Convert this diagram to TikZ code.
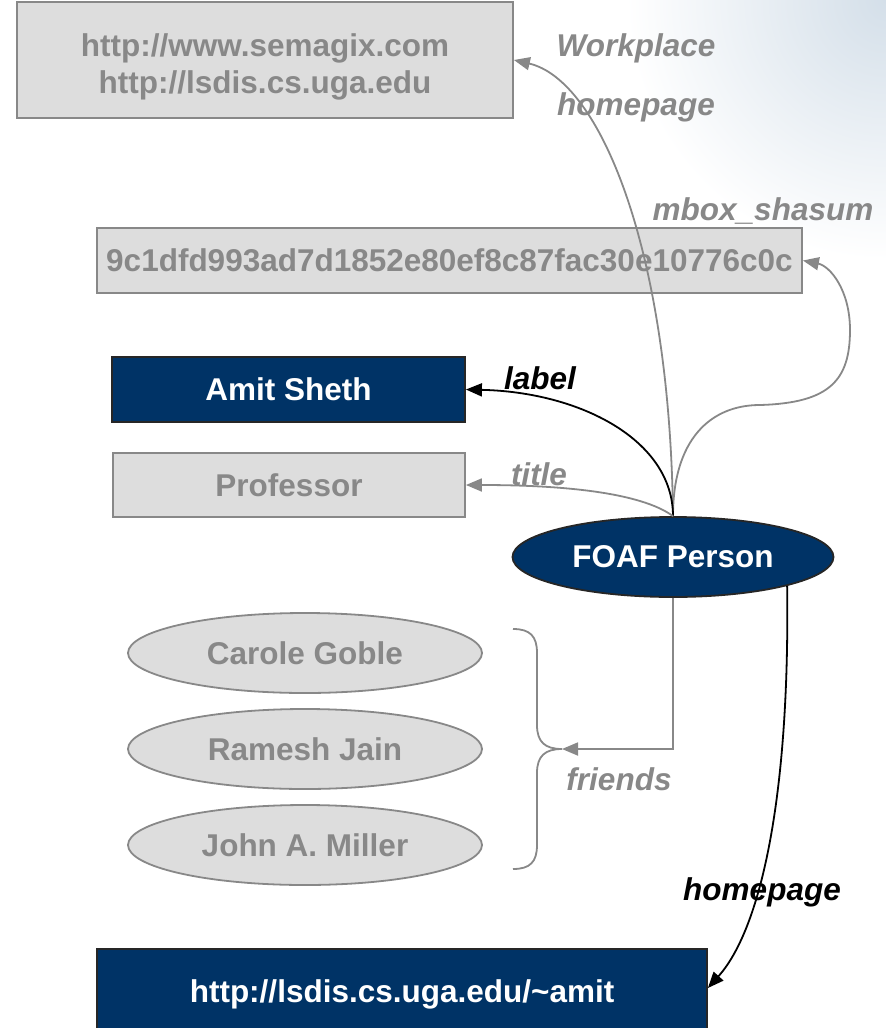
\documentclass[tikz,border=0pt]{standalone}
\usepackage{fontspec}
\setmainfont{Liberation Sans}
\usetikzlibrary{arrows.meta,shapes.geometric}

\definecolor{navy}{RGB}{0,51,102}
\definecolor{boxgray}{RGB}{221,221,221}
\definecolor{txtgray}{RGB}{136,136,136}
\definecolor{haze}{RGB}{212,223,233}

\tikzset{
  big/.style={font=\fontsize{31.5}{37}\selectfont\bfseries},
  lit/.style={draw=txtgray,line width=1.8pt,fill=boxgray,text=txtgray,big,inner sep=0pt,align=center},
  res/.style={draw=black!85,line width=1.8pt,fill=navy,text=white,big,inner sep=0pt,align=center},
  litell/.style={lit,ellipse},
  resell/.style={res,ellipse},
  prop/.style={font=\fontsize{31.5}{37}\selectfont\bfseries\itshape,inner sep=0pt},
  greyedge/.style={draw=txtgray,line width=1.8pt,-{Triangle[length=16pt,width=13pt]}},
  blackedge/.style={draw=black,line width=1.8pt,-{Triangle[length=16pt,width=13pt]}},
}

\begin{document}
\begin{tikzpicture}[x=1pt,y=-1pt]
\useasboundingbox (0,0) rectangle (886,1028);

% soft slide backdrop in the upper right corner
\begin{scope}
  \clip (0,0) rectangle (886,1028);
  \shade[inner color=haze,outer color=white] (886,0) circle (260pt);
\end{scope}

% literal values
\node[lit,minimum width=496pt,minimum height=116pt] (work) at (265,60) {};
\node[big,text=txtgray,align=center,inner sep=0pt] (worktext) at (265,67)
  {http://www.semagix.com\\http://lsdis.cs.uga.edu};
\node[lit,minimum width=705pt,minimum height=65pt] (sha) at (449.5,260.5)
  {9c1dfd993ad7d1852e80ef8c87fac30e10776c0c};
\node[res,minimum width=353pt,minimum height=65pt] (name) at (288.5,389.5) {Amit Sheth};
\node[lit,minimum width=352pt,minimum height=64pt] (prof) at (289,485) {Professor};

% the person and its friends
\node[resell,minimum width=321pt,minimum height=80pt] (foaf) at (673,557) {FOAF Person};
\node[litell,minimum width=354pt,minimum height=80pt] (carole) at (305,653) {Carole Goble};
\node[litell,minimum width=354pt,minimum height=80pt] (ramesh) at (305,749) {Ramesh Jain};
\node[litell,minimum width=354pt,minimum height=80pt] (john) at (305,845) {John A. Miller};

% personal homepage
\node[res,minimum width=610pt,minimum height=90pt] (home) at (402,994) {http://lsdis.cs.uga.edu/\textasciitilde amit};

% property names
\node[prop,text=txtgray] (lwork) at (636,48) {Workplace};
\node[prop,text=txtgray] (lwork2) at (636,107) {homepage};
\node[prop,text=txtgray] (lsha) at (763,211) {mbox\_shasum};
\node[prop,text=black] (llabel) at (540,378) {label};
\node[prop,text=txtgray] (ltitle) at (539,474) {title};
\node[prop,text=txtgray] (lfriends) at (619,779) {friends};
\node[prop,text=black] (lhome) at (762,892) {homepage};

% brace grouping the friends
\coordinate (tip) at (562,749);
\draw[txtgray,line width=1.8pt]
  (513,629) .. controls (530,629) and (537,636) .. (537,653) -- (537,725)
  .. controls (537,742) and (545,749) .. (tip)
  .. controls (545,749) and (537,756) .. (537,773) -- (537,845)
  .. controls (537,862) and (530,869) .. (513,869);

% properties leaving the person
\draw[greyedge] (foaf.north) .. controls (670,250) and (600,80) .. (work.east);
\draw[greyedge] (foaf.north) .. controls (673,440) and (710,405) .. (760,405)
  .. controls (830,403) and (850,380) .. (850,330)
  .. controls (850,290) and (830,266) .. (sha.east);
\draw[blackedge] (foaf.north) .. controls (673,440) and (580,392) .. (name.east);
\draw[greyedge] (foaf.north) .. controls (640,492) and (560,485) .. (prof.east);
\draw[greyedge] (foaf.south) |- (tip);
\draw[blackedge] (foaf.south east) .. controls (790,800) and (760,930) .. ([yshift=6pt]home.east);
\end{tikzpicture}
\end{document}
